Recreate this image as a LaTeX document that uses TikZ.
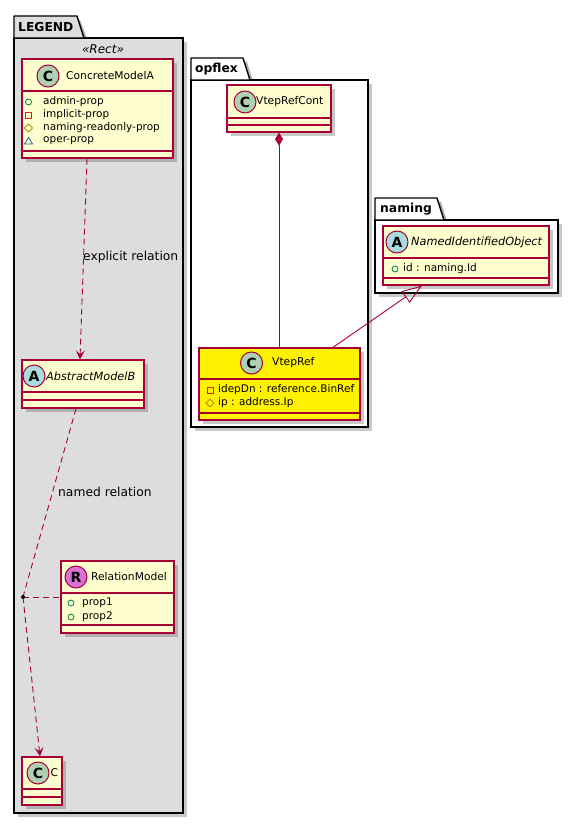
\documentclass[tikz,border=0pt]{standalone}
\usepackage{fontspec}
\setmainfont{DejaVu Sans}
\usetikzlibrary{arrows.meta,shadows}
\definecolor{classbg}{HTML}{FEFECE}
\definecolor{bord}{HTML}{A80036}
\definecolor{legbg}{HTML}{DDDDDD}
\definecolor{spotC}{HTML}{ADD1B2}
\definecolor{spotA}{HTML}{A9DCDF}
\definecolor{spotR}{HTML}{DA70D6}
\definecolor{pubc}{HTML}{038048}
\definecolor{privc}{HTML}{C82930}
\definecolor{protc}{HTML}{B38D22}
\definecolor{pkgc}{HTML}{1963A0}
\tikzset{
  shad/.style={drop shadow={shadow xshift=4pt,shadow yshift=-4pt,opacity=0.3,fill=black!70}},
  clsbox/.style={draw=bord, line width=1.3pt, fill=classbg, inner sep=0pt, shad},
  pkgbox/.style={draw=black, line width=1.4pt, fill=white, inner sep=0pt, shad},
  sepline/.style={draw=bord, line width=1.2pt},
  spot/.style={circle, draw=bord, line width=1pt, minimum size=22pt, inner sep=0pt, font=\bfseries\fontsize{14}{14}\selectfont},
  cname/.style={anchor=west, inner sep=0pt, font=\fontsize{10.7}{13}\selectfont},
  iname/.style={anchor=west, inner sep=0pt, font=\itshape\fontsize{11.3}{13}\selectfont},
  attr/.style={anchor=west, inner sep=0pt, font=\fontsize{10.5}{12}\selectfont},
  lbl/.style={anchor=west, inner sep=0pt, font=\fontsize{12.3}{14}\selectfont},
  pname/.style={anchor=west, inner sep=0pt, font=\bfseries\fontsize{12.3}{14}\selectfont},
  tab/.style={draw=black, line width=1.4pt, line join=round},
  tabshad/.style={fill=black, opacity=0.3},
  conn/.style={draw=bord, line width=0.9pt},
  dsh/.style={dash pattern=on 6pt off 4pt},
  dep/.style={-{Stealth[length=9pt,width=9pt,inset=4pt]}},
}
\newcommand{\pubicon}[2]{\draw[pubc, line width=0.8pt] (#1,#2) circle (3pt);}
\newcommand{\privicon}[2]{\draw[privc, line width=0.8pt] (#1-3,#2-3) rectangle (#1+3,#2+3);}
\newcommand{\proticon}[2]{\draw[protc, line width=0.8pt] (#1,#2-4) -- (#1+4,#2) -- (#1,#2+4) -- (#1-4,#2) -- cycle;}
\newcommand{\pkgicon}[2]{\draw[pkgc, line width=0.8pt] (#1,#2-3.5) -- (#1+4,#2+3) -- (#1-4,#2+3) -- cycle;}
\begin{document}
\begin{tikzpicture}[x=1pt,y=-1pt]
\useasboundingbox[fill=white] (0,0) rectangle (578,824);

% ---------- LEGEND package ----------
\fill[tabshad] (18,20) -- (80,20) -- (88,41) -- (18,41) -- cycle;
\node[pkgbox, fill=legbg, minimum width=169pt, minimum height=775pt] (legend) at (98.5,425.5) {};
\draw[tab, fill=legbg] (14,38) -- (14,16) -- (77,16) -- (84,38) -- cycle;
\node[pname] (legendname) at (18,27) {LEGEND};
\node[inner sep=0pt, font=\itshape\fontsize{12}{14}\selectfont] (stereo) at (103,49) {«Rect»};

% ---------- opflex package ----------
\fill[tabshad] (195,62) -- (247,62) -- (254,84) -- (195,84) -- cycle;
\node[pkgbox, minimum width=177pt, minimum height=347pt] (opflex) at (279.5,253.5) {};
\draw[tab, fill=white] (191,80) -- (191,58) -- (243,58) -- (250,80) -- cycle;
\node[pname] (opflexname) at (195,69) {opflex};

% ---------- naming package ----------
\fill[tabshad] (379,202) -- (441,202) -- (448,224) -- (379,224) -- cycle;
\node[pkgbox, minimum width=183pt, minimum height=73pt] (naming) at (466.5,256.5) {};
\draw[tab, fill=white] (375,220) -- (375,198) -- (437,198) -- (444,220) -- cycle;
\node[pname] (namingname) at (380,209) {naming};

% ---------- ConcreteModelA ----------
\node[clsbox, minimum width=151pt, minimum height=99pt] (cma) at (97.5,108.5) {};
\draw[sepline] (22,91) -- (173,91);
\draw[sepline] (22,151) -- (173,151);
\node[spot, fill=spotC] (cmaspot) at (48,76) {C};
\node[cname] (cmaname) at (66,76) {ConcreteModelA};
\pubicon{28.5}{102}
\node[attr] (a1) at (43,102) {admin-prop};
\privicon{28.5}{115}
\node[attr] (a2) at (43,115) {implicit-prop};
\proticon{28.5}{128}
\node[attr] (a3) at (43,128) {naming-readonly-prop};
\pkgicon{28.5}{141}
\node[attr] (a4) at (43,141) {oper-prop};

% ---------- AbstractModelB ----------
\node[clsbox, minimum width=122pt, minimum height=48pt] (amb) at (83,384) {};
\draw[sepline] (22,392) -- (144,392);
\draw[sepline] (22,400) -- (144,400);
\node[spot, fill=spotA] (ambspot) at (34,376) {A};
\node[iname] (ambname) at (46,376) {AbstractModelB};

% ---------- RelationModel ----------
\node[clsbox, minimum width=113pt, minimum height=72pt] (rm) at (117.5,597) {};
\draw[sepline] (61,593) -- (174,593);
\draw[sepline] (61,625) -- (174,625);
\node[spot, fill=spotR] (rmspot) at (76,577) {R};
\node[cname] (rmname) at (91,577) {RelationModel};
\pubicon{71}{603}
\node[attr] (p1) at (82,603) {prop1};
\pubicon{71}{617}
\node[attr] (p2) at (82,617) {prop2};

% ---------- C ----------
\node[clsbox, minimum width=40pt, minimum height=48pt] (cbox) at (42,781) {};
\draw[sepline] (22,789) -- (62,789);
\draw[sepline] (22,797) -- (62,797);
\node[spot, fill=spotC] (cspot) at (38,773) {C};
\node[cname] (cname) at (50.5,773) {C};

% ---------- VtepRefCont ----------
\node[clsbox, minimum width=104pt, minimum height=47pt] (vrc) at (279,108.5) {};
\draw[sepline] (227,118) -- (331,118);
\draw[sepline] (227,125) -- (331,125);
\node[spot, fill=spotC] (vrcspot) at (245,102) {C};
\node[cname] (vrcname) at (256,102) {VtepRefCont};

% ---------- VtepRef ----------
\node[clsbox, fill=yellow, minimum width=161pt, minimum height=72pt] (vr) at (279.5,384) {};
\draw[sepline] (199,379) -- (360,379);
\draw[sepline] (199,413) -- (360,413);
\node[spot, fill=spotC] (vrspot) at (251.5,363) {C};
\node[cname] (vrname) at (272,363) {VtepRef};
\privicon{210}{390}
\node[attr] (v1) at (218,390) {idepDn : reference.BinRef};
\proticon{210}{403}
\node[attr] (v2) at (218,403) {ip : address.Ip};

% ---------- NamedIdentifiedObject ----------
\node[clsbox, minimum width=166pt, minimum height=59pt] (nio) at (466,255.5) {};
\draw[sepline] (383,258) -- (549,258);
\draw[sepline] (383,278) -- (549,278);
\node[spot, fill=spotA] (niospot) at (397,242) {A};
\node[iname] (nioname) at (411,242) {NamedIdentifiedObject};
\pubicon{395}{269}
\node[attr] (n1) at (403,269) {id : naming.Id};

% ---------- connectors ----------
\coordinate (pt) at (23,597);
\draw[conn, dsh, dep] ([xshift=-10.5pt]cma.south) -- ([xshift=-3pt]amb.north);
\node[lbl] (l1) at (83,257) {explicit relation};
\draw[conn, dsh] ([xshift=-7pt]amb.south) -- (pt);
\node[lbl] (l2) at (58,492) {named relation};
\draw[conn, dsh] (pt) -- (rm.west);
\draw[conn, dsh, dep] (pt) -- ([xshift=-2pt]cbox.north);
\fill[black] (pt) circle (2pt);

\draw[conn, {Diamond[length=13pt,width=8pt,fill=bord]}-] (vrc.south) -- (vrc.south |- vr.north);
\draw[conn, -{Triangle[open,length=20pt,width=14pt]}] ([xshift=53.5pt]vr.north) -- ([xshift=-44pt]nio.south);
\end{tikzpicture}
\end{document}
